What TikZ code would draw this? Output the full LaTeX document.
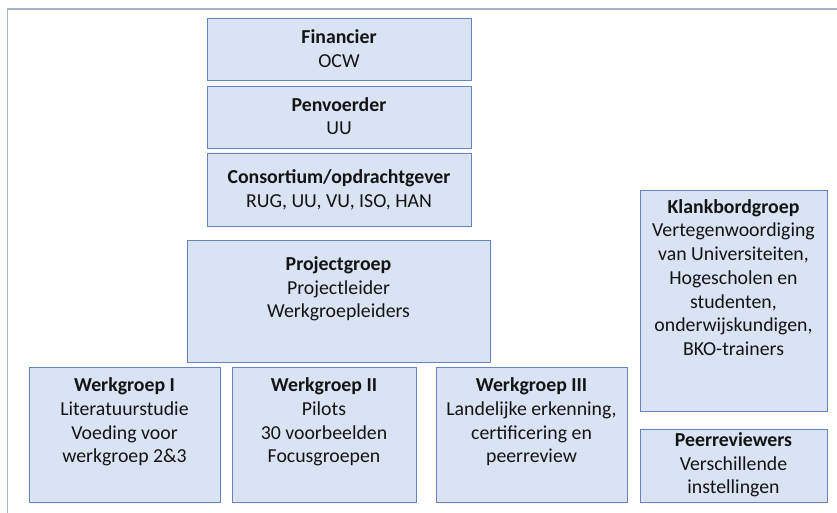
\documentclass[tikz,border=0pt]{standalone}
\usepackage{fontspec}
\setmainfont{Carlito}
\definecolor{boxfill}{HTML}{DAE3F3}
\definecolor{boxline}{RGB}{104,132,192}
\definecolor{frameline}{RGB}{166,178,200}
\definecolor{txt}{RGB}{20,20,20}
\begin{document}
\begin{tikzpicture}[x=1pt,y=-1pt,
  box/.style={draw=boxline,fill=boxfill,line width=1pt,inner sep=0pt,anchor=north west},
  lbl/.style={align=center,inner sep=0pt,font=\fontsize{19.8}{23.7}\selectfont,text=txt}]
\useasboundingbox (0,0) rectangle (837,513);
\draw[frameline,line width=1.6pt] (7.5,513) -- (7.5,9) -- (837,9);
% boxes
\node[box,minimum width=264pt,minimum height=62pt] (fin) at (207,18) {};
\node[box,minimum width=264pt,minimum height=62pt] (pen) at (207,86) {};
\node[box,minimum width=264pt,minimum height=73pt] (con) at (207,153) {};
\node[box,minimum width=303pt,minimum height=122pt] (pg) at (187,240) {};
\node[box,minimum width=191pt,minimum height=135pt] (wg1) at (29,367) {};
\node[box,minimum width=184pt,minimum height=135pt] (wg2) at (232,367) {};
\node[box,minimum width=191pt,minimum height=135pt] (wg3) at (436,367) {};
\node[box,minimum width=187pt,minimum height=221pt] (kb) at (640,190) {};
\node[box,minimum width=187pt,minimum height=73pt] (pr) at (640,429) {};
% texts
\node[lbl] (tfin) at (339,48.5) {\textbf{Financier}\\OCW};
\node[lbl] (tpen) at (339,116) {\textbf{Penvoerder}\\UU};
\node[lbl] (tcon) at (339,189.5) {\textbf{Consortium/opdrachtgever}\\RUG, UU, VU, ISO, HAN};
\node[lbl] (tpg) at (338.5,289) {\textbf{Projectgroep}\\Projectleider\\Werkgroepleiders};
\node[lbl] (twg1) at (124.5,422) {\textbf{Werkgroep I}\\Literatuurstudie\\Voeding voor\\werkgroep 2\&3};
\node[lbl] (twg2) at (324,422) {\textbf{Werkgroep II}\\Pilots\\30 voorbeelden\\Focusgroepen};
\node[lbl] (twg3) at (531.5,422) {\textbf{Werkgroep III}\\Landelijke erkenning,\\certificering en\\peerreview};
\node[lbl] (tkb) at (733.5,277.5) {\textbf{Klankbordgroep}\\Vertegenwoordiging\\van Universiteiten,\\Hogescholen en\\studenten,\\onderwijskundigen,\\BKO-trainers};
\node[lbl] (tpr) at (733.5,465) {\textbf{Peerreviewers}\\Verschillende\\instellingen};
\end{tikzpicture}
\end{document}
